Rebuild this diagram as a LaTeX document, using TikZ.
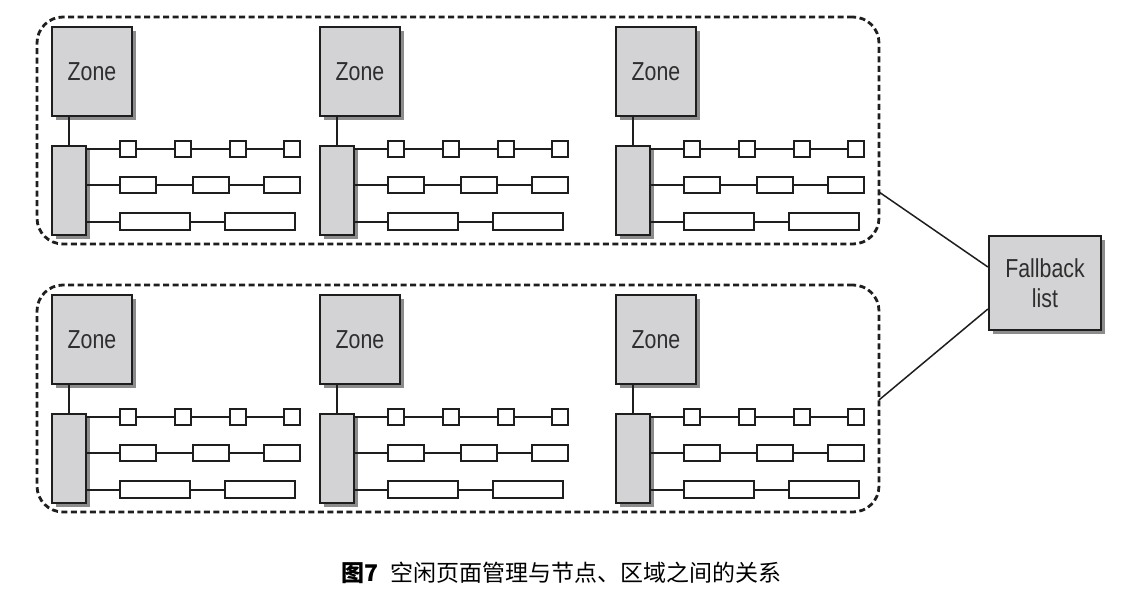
\documentclass[tikz,border=0pt]{standalone}
\usepackage{fontspec}
\setmainfont{Liberation Sans}
\newfontfamily\condfont[FakeStretch=0.82]{Liberation Sans}
\newfontfamily\cjkfont{Noto Sans CJK SC}
\usetikzlibrary{shadows,calc}
\definecolor{zonegray}{HTML}{D3D3D5}
\definecolor{inkc}{HTML}{1E1E1E}
\definecolor{textc}{HTML}{2E2E2E}
\begin{document}
\begin{tikzpicture}[x=1pt,y=-1pt,
  shad/.style={general shadow={fill=black!45, shadow xshift=4pt, shadow yshift=-4pt}},
  zonebox/.style={draw=inkc, line width=2.2pt, fill=zonegray, shad, minimum width=80pt, minimum height=89pt, inner sep=0pt, font=\condfont\fontsize{26}{30}\selectfont, text=textc},
  barbox/.style={draw=inkc, line width=2.2pt, fill=zonegray, shad, minimum width=34pt, minimum height=89pt, inner sep=0pt},
  sqbox/.style={draw=inkc, line width=2pt, fill=white, minimum width=16pt, minimum height=16pt, inner sep=0pt},
  midbox/.style={sqbox, minimum width=36pt},
  longbox/.style={sqbox, minimum width=70pt, minimum height=17pt},
  link/.style={draw=inkc, line width=2pt},
  grpbox/.style={draw=inkc, line width=2.8pt, dash pattern=on 6pt off 3.5pt, rounded corners=26pt, minimum width=842pt, minimum height=227pt, inner sep=0pt},
  fbbox/.style={zonebox, minimum width=112pt, minimum height=94pt, align=center}
]
\useasboundingbox (0,0) rectangle (1126,599);
\fill[white] (0,0) rectangle (1126,599);

\node[grpbox] (ga) at (458,130.5) {};
\node[grpbox] (gb) at (458,398.5) {};

\foreach \gx/\gy/\id in {0/0/a1, 268/0/a2, 564/0/a3, 0/268/b1, 268/268/b2, 564/268/b3}{
  \begin{scope}[shift={(\gx,\gy)}]
    \node[zonebox] (z\id) at (92,71.5) {Zone};
    \node[barbox] (b\id) at (69,190.5) {};
    \draw[link] (b\id.north) -- (b\id.north |- z\id.south);
    % row 1
    \node[sqbox] (p\id-1) at (128,149) {};
    \node[sqbox] (p\id-2) at (183,149) {};
    \node[sqbox] (p\id-3) at (238,149) {};
    \node[sqbox] (p\id-4) at (292,149) {};
    \draw[link] (b\id.east |- p\id-1.west) -- (p\id-1.west);
    \draw[link] (p\id-1) -- (p\id-2);
    \draw[link] (p\id-2) -- (p\id-3);
    \draw[link] (p\id-3) -- (p\id-4);
    % row 2
    \node[midbox] (q\id-1) at (138,185) {};
    \node[midbox] (q\id-2) at (210.5,185) {};
    \node[midbox] (q\id-3) at (282,185) {};
    \draw[link] (b\id.east |- q\id-1.west) -- (q\id-1.west);
    \draw[link] (q\id-1) -- (q\id-2);
    \draw[link] (q\id-2) -- (q\id-3);
    % row 3
    \node[longbox] (s\id-1) at (155,221.5) {};
    \node[longbox] (s\id-2) at (260,221.5) {};
    \draw[link] (b\id.east |- s\id-1.west) -- (s\id-1.west);
    \draw[link] (s\id-1) -- (s\id-2);
  \end{scope}
}

\node[fbbox] (fb) at (1045,283) {Fallback\\list};
\coordinate (pa) at (879,192);
\coordinate (pb) at (879,400);
\draw[link, line width=1.5pt] (pa) -- ($(fb.west)+(0,-16)$);
\draw[link, line width=1.5pt] (pb) -- ($(fb.west)+(0,26)$);

\node[font=\cjkfont\fontsize{23}{28}\selectfont, text=black, inner sep=0pt] (cap) at (561.5,573)
  {{\bfseries 图7}\hspace{12pt}空闲页面管理与节点、区域之间的关系};
\end{tikzpicture}
\end{document}
